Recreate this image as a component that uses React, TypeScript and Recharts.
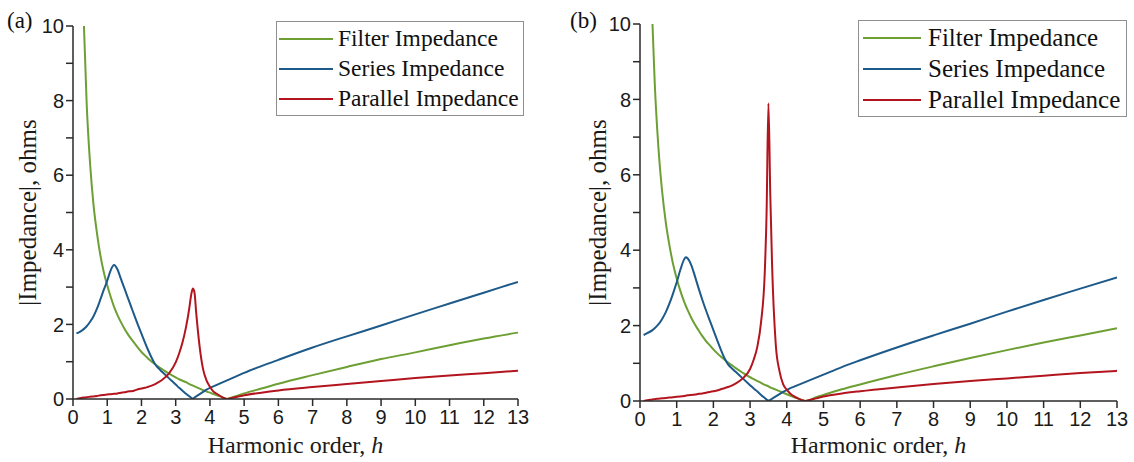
import React from 'react';
import { LineChart, Line, XAxis, YAxis, Legend, Label } from 'recharts';

// ---------- data ----------
const hA = [0.1, 0.2, 0.32, 0.4, 0.5, 0.6, 0.7, 0.8, 0.9, 1.0, 1.1, 1.2, 1.3, 1.4, 1.5, 1.6, 1.7, 1.8, 1.9, 2.0, 2.1, 2.2, 2.3, 2.4, 2.5, 2.6, 2.8, 3.0, 3.1, 3.2, 3.3, 3.4, 3.45, 3.5, 3.55, 3.6, 3.7, 3.8, 3.9, 4.0, 4.1, 4.2, 4.3, 4.4, 4.5, 4.6, 4.8, 5.0, 5.5, 6, 7, 8, 9, 10, 11, 12, 13];
const filterA = [null, null, 10.0, 7.9, 6.3, 5.2, 4.45, 3.85, 3.4, 3.05, 2.74, 2.47, 2.25, 2.06, 1.89, 1.74, 1.61, 1.49, 1.37, 1.26, 1.17, 1.08, 1.0, 0.93, 0.86, 0.8, 0.68, 0.58, 0.53, 0.49, 0.45, 0.4, 0.38, 0.36, 0.34, 0.32, 0.28, 0.24, 0.2, 0.17, 0.13, 0.1, 0.07, 0.03, 0.0, 0.03, 0.09, 0.15, 0.28, 0.41, 0.64, 0.86, 1.07, 1.25, 1.44, 1.62, 1.78];
const seriesA = [1.76, 1.8, 1.88, 1.95, 2.07, 2.22, 2.42, 2.67, 2.93, 3.17, 3.45, 3.59, 3.47, 3.22, 2.97, 2.72, 2.47, 2.22, 1.98, 1.75, 1.52, 1.3, 1.1, 0.93, 0.82, 0.73, 0.56, 0.39, 0.3, 0.22, 0.14, 0.07, 0.035, 0.01, 0.04, 0.07, 0.13, 0.19, 0.25, 0.3, 0.34, 0.38, 0.42, 0.46, 0.5, 0.54, 0.62, 0.7, 0.88, 1.05, 1.38, 1.68, 1.97, 2.27, 2.56, 2.85, 3.14];
const parallelA = [0.0, 0.02, 0.04, 0.05, 0.06, 0.07, 0.08, 0.1, 0.11, 0.12, 0.13, 0.14, 0.15, 0.17, 0.18, 0.2, 0.21, 0.23, 0.26, 0.28, 0.3, 0.33, 0.36, 0.4, 0.45, 0.51, 0.68, 0.98, 1.22, 1.52, 1.92, 2.45, 2.78, 2.96, 2.85, 2.3, 1.4, 0.8, 0.5, 0.33, 0.2, 0.14, 0.08, 0.03, 0.0, 0.02, 0.06, 0.1, 0.17, 0.23, 0.32, 0.4, 0.48, 0.56, 0.63, 0.69, 0.76];

const hB = [0.1, 0.2, 0.34, 0.4, 0.5, 0.6, 0.7, 0.8, 0.9, 1.0, 1.1, 1.2, 1.25, 1.3, 1.4, 1.5, 1.6, 1.7, 1.8, 1.9, 2.0, 2.1, 2.2, 2.3, 2.4, 2.5, 2.6, 2.8, 3.0, 3.1, 3.2, 3.3, 3.4, 3.45, 3.5, 3.55, 3.6, 3.7, 3.8, 3.9, 4.0, 4.1, 4.2, 4.3, 4.4, 4.5, 4.6, 4.8, 5.0, 5.5, 6, 7, 8, 9, 10, 11, 12, 13];
const filterB = [null, null, 10.0, 8.47, 6.75, 5.59, 4.76, 4.14, 3.64, 3.25, 2.92, 2.64, 2.52, 2.41, 2.2, 2.02, 1.87, 1.72, 1.59, 1.48, 1.37, 1.27, 1.18, 1.1, 1.02, 0.95, 0.88, 0.75, 0.63, 0.58, 0.53, 0.48, 0.43, 0.41, 0.39, 0.36, 0.34, 0.3, 0.26, 0.22, 0.18, 0.14, 0.1, 0.07, 0.03, 0.0, 0.02, 0.1, 0.16, 0.31, 0.44, 0.69, 0.92, 1.14, 1.35, 1.55, 1.74, 1.93];
const seriesB = [1.75, 1.8, 1.88, 1.93, 2.03, 2.17, 2.35, 2.58, 2.85, 3.15, 3.48, 3.75, 3.81, 3.78, 3.6, 3.3, 2.98, 2.68, 2.4, 2.14, 1.88, 1.62, 1.37, 1.14, 0.97, 0.87, 0.78, 0.6, 0.42, 0.33, 0.25, 0.16, 0.08, 0.04, 0.01, 0.03, 0.06, 0.12, 0.18, 0.24, 0.29, 0.34, 0.38, 0.42, 0.46, 0.5, 0.54, 0.62, 0.7, 0.9, 1.08, 1.42, 1.74, 2.05, 2.37, 2.68, 2.98, 3.28];
const parallelB = [0.0, 0.02, 0.04, 0.05, 0.06, 0.07, 0.08, 0.09, 0.1, 0.11, 0.12, 0.13, 0.14, 0.15, 0.16, 0.17, 0.19, 0.2, 0.22, 0.24, 0.26, 0.28, 0.31, 0.34, 0.37, 0.41, 0.46, 0.6, 0.85, 1.1, 1.45, 2.1, 3.4, 5.0, 7.9, 5.5, 3.6, 1.5, 0.8, 0.45, 0.3, 0.19, 0.12, 0.07, 0.03, 0.0, 0.02, 0.07, 0.12, 0.2, 0.26, 0.36, 0.45, 0.53, 0.6, 0.67, 0.74, 0.8];

const xTicks = [0, 1, 2, 3, 4, 5, 6, 7, 8, 9, 10, 11, 12, 13];
const yTicks = [0, 1, 2, 3, 4, 5, 6, 7, 8, 9, 10];
const seriesNames = ['Filter Impedance', 'Series Impedance', 'Parallel Impedance'];
const panelTags = ['(a)', '(b)'];
const xTitle = 'Harmonic order, ';
const yTitle = '|Impedance|, ohms';

const COLORS = { filter: '#6d9f33', series: '#1d5a8a', parallel: '#b3151f' };
const SERIF = '"Liberation Serif", "Times New Roman", Times, serif';
const SANS = '"Liberation Sans", Arial, Helvetica, sans-serif';
const AXIS = '#2a2a2a';

const buildRows = (hs: number[], f: (number | null)[], s: number[], p: number[]) =>
  hs.map((h, i) => ({ h, filter: f[i], series: s[i], parallel: p[i] }));

const dataA = buildRows(hA, filterA, seriesA, parallelA);
const dataB = buildRows(hB, filterB, seriesB, parallelB);

type LegendCfg = { left: number; top: number; w: number; h: number; padTop: number; rowH: number; swL: number; swW: number; textGap: number; fontSize: number };

const makeLegend = (cfg: LegendCfg) => (props: any) => {
  const payload = [...(props.payload || [])].sort(
    (a: any, b: any) => seriesNames.indexOf(a.value) - seriesNames.indexOf(b.value)
  );
  return (
    <div style={{ width: cfg.w, height: cfg.h, border: '1px solid #8f8f8f', background: '#fff', boxSizing: 'border-box', paddingTop: cfg.padTop }}>
      {payload.map((p: any) => (
        <div key={p.value} style={{ display: 'flex', alignItems: 'center', height: cfg.rowH }}>
          <svg width={cfg.swL + cfg.swW} height={4} style={{ display: 'block' }}>
            <line x1={cfg.swL} x2={cfg.swL + cfg.swW} y1={2} y2={2} stroke={p.color} strokeWidth={2} />
          </svg>
          <span style={{ fontFamily: SERIF, fontSize: cfg.fontSize, color: '#111', marginLeft: cfg.textGap, whiteSpace: 'nowrap', lineHeight: 1 }}>{p.value}</span>
        </div>
      ))}
    </div>
  );
};

type PanelProps = {
  data: any[];
  left: number;
  width: number;
  margin: { top: number; right: number; bottom: number; left: number };
  legend: LegendCfg;
  yTitleX: number;
  xTitleDy: number;
  tag: string;
  tagX: number;
};

function Panel({ data, left, width, margin, legend, yTitleX, xTitleDy, tag, tagX }: PanelProps) {
  const XTitle = (props: any) => {
    const vb = props.viewBox || {};
    return (
      <text x={vb.x + vb.width / 2} y={vb.y + xTitleDy} textAnchor="middle" fontFamily={SERIF} fontSize={24} fill="#1a1a1a">
        {xTitle}
        <tspan fontStyle="italic">h</tspan>
      </text>
    );
  };
  const YTitle = (props: any) => {
    const vb = props.viewBox || {};
    const cy = vb.y + vb.height / 2;
    return (
      <text x={yTitleX} y={cy} textAnchor="middle" dominantBaseline="central" transform={`rotate(-90 ${yTitleX} ${cy})`} fontFamily={SERIF} fontSize={25} fill="#1a1a1a">
        {yTitle}
      </text>
    );
  };
  return (
    <div style={{ position: 'absolute', left, top: 0, width, height: 462 }}>
      <div style={{ position: 'absolute', left: tagX, top: 9, fontFamily: SERIF, fontSize: 23, color: '#111', lineHeight: 1 }}>{tag}</div>
      <LineChart width={width} height={462} data={data} margin={margin}>
        <XAxis
          dataKey="h"
          type="number"
          domain={[0, 13]}
          ticks={xTicks}
          allowDataOverflow
          interval={0}
          height={60}
          tickSize={7}
          tickMargin={4}
          stroke={AXIS}
          strokeWidth={1.5}
          tick={{ fontFamily: SANS, fontSize: 20, fill: '#1a1a1a' }}
          tickLine={{ stroke: AXIS, strokeWidth: 1.5 }}
        >
          <Label content={XTitle} />
        </XAxis>
        <YAxis
          type="number"
          domain={[0, 10]}
          ticks={yTicks}
          allowDataOverflow
          interval={0}
          width={55}
          tickSize={7}
          stroke={AXIS}
          strokeWidth={1.5}
          tickFormatter={(v: number) => (v % 2 === 0 ? String(v) : '')}
          tick={{ fontFamily: SANS, fontSize: 20, fill: '#1a1a1a' }}
          tickLine={{ stroke: AXIS, strokeWidth: 1.5 }}
        >
          <Label content={YTitle} />
        </YAxis>
        <Legend
          layout="vertical"
          align="center"
          verticalAlign="middle"
          wrapperStyle={{ left: legend.left, top: legend.top, width: legend.w, height: legend.h }}
          content={makeLegend(legend)}
        />
        <Line type="monotone" dataKey="filter" name={seriesNames[0]} stroke={COLORS.filter} strokeWidth={2} dot={false} isAnimationActive={false} connectNulls={false} />
        <Line type="monotone" dataKey="series" name={seriesNames[1]} stroke={COLORS.series} strokeWidth={2} dot={false} isAnimationActive={false} />
        <Line type="monotone" dataKey="parallel" name={seriesNames[2]} stroke={COLORS.parallel} strokeWidth={2} dot={false} isAnimationActive={false} />
      </LineChart>
    </div>
  );
}

export default function App() {
  return (
    <div style={{ position: 'absolute', left: 0, top: 0, width: 1134, height: 462, background: '#fff', overflow: 'hidden' }}>
      <Panel
        data={dataA}
        left={0}
        width={560}
        margin={{ top: 26, right: 42, left: 18, bottom: 3 }}
        legend={{ left: 276, top: 21, w: 248, h: 95, padTop: 2, rowH: 30, swL: 2, swW: 54, textGap: 5, fontSize: 23.5 }}
        yTitleX={27}
        xTitleDy={54}
        tag={panelTags[0]}
        tagX={7}
      />
      <Panel
        data={dataB}
        left={567}
        width={567}
        margin={{ top: 24, right: 17, left: 18, bottom: 1 }}
        legend={{ left: 291, top: 20, w: 269, h: 97, padTop: 1, rowH: 31, swL: 4, swW: 58, textGap: 7, fontSize: 25 }}
        yTitleX={30}
        xTitleDy={52}
        tag={panelTags[1]}
        tagX={3}
      />
    </div>
  );
}
